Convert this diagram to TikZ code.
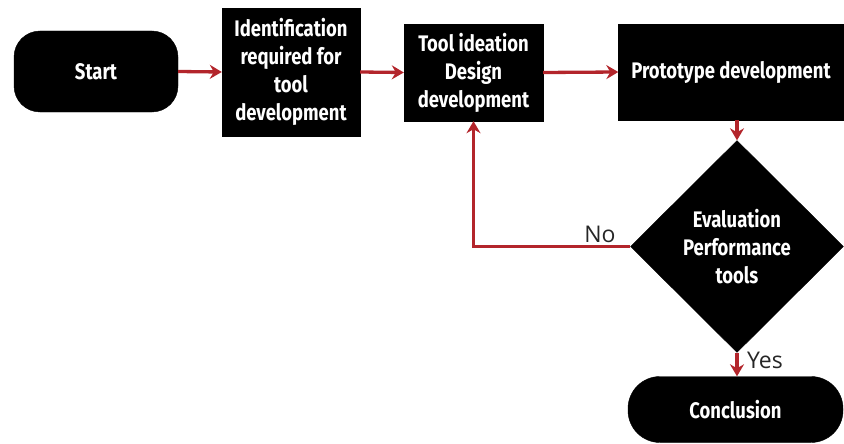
\documentclass[tikz,border=0pt]{standalone}
\usepackage{fontspec}
\setmainfont{Open Sans}
\newfontfamily\boxfont[FakeStretch=0.82]{Fira Sans}
\usetikzlibrary{shapes.geometric,arrows.meta}
\definecolor{arr}{HTML}{B3252B}
\tikzset{
  blk/.style={fill=black,draw=black,text=white,align=center,inner sep=0pt,
    font=\boxfont\bfseries\fontsize{22.5}{28}\selectfont},
  conn/.style={draw=arr,line width=3.3pt,-{Stealth[length=12pt,width=14pt,inset=4pt]}},
  lbl/.style={font=\fontsize{23}{24}\selectfont,text=black!85}
}
\begin{document}
\begin{tikzpicture}[x=1pt,y=-1pt]
\useasboundingbox (0,0) rectangle (844,444);
\node[blk,rounded corners=26pt,minimum width=164pt,minimum height=81pt] (start) at (96,71.5) {Start};
\node[blk,minimum width=138pt,minimum height=128pt] (ident) at (291,72) {Identification\\required for\\tool\\development};
\node[blk,minimum width=139pt,minimum height=97pt] (tool) at (473.5,72.5) {Tool ideation\\Design\\development};
\node[blk,minimum width=225pt,minimum height=96pt] (proto) at (731,72) {Prototype development};
\node[blk,diamond,aspect=1,minimum width=213pt,minimum height=212pt] (diam) at (737,246.5) {Evaluation\\Performance\\tools};
\node[blk,rounded corners=32pt,minimum width=215pt,minimum height=66pt] (concl) at (735.5,409.5) {Conclusion};
\draw[conn] (start.east) -- (ident.west);
\draw[conn] (ident.east) -- (tool.west);
\draw[conn] (tool.east) -- (proto.west);
\draw[conn] (diam.north |- proto.south) -- (diam.north);
\draw[conn] (diam.south) -- (diam.south |- concl.north);
\draw[conn] (diam.west) -| (tool.south);
\node[lbl] (no) at (600,234) {No};
\node[lbl] (yes) at (765,360) {Yes};
\end{tikzpicture}
\end{document}
